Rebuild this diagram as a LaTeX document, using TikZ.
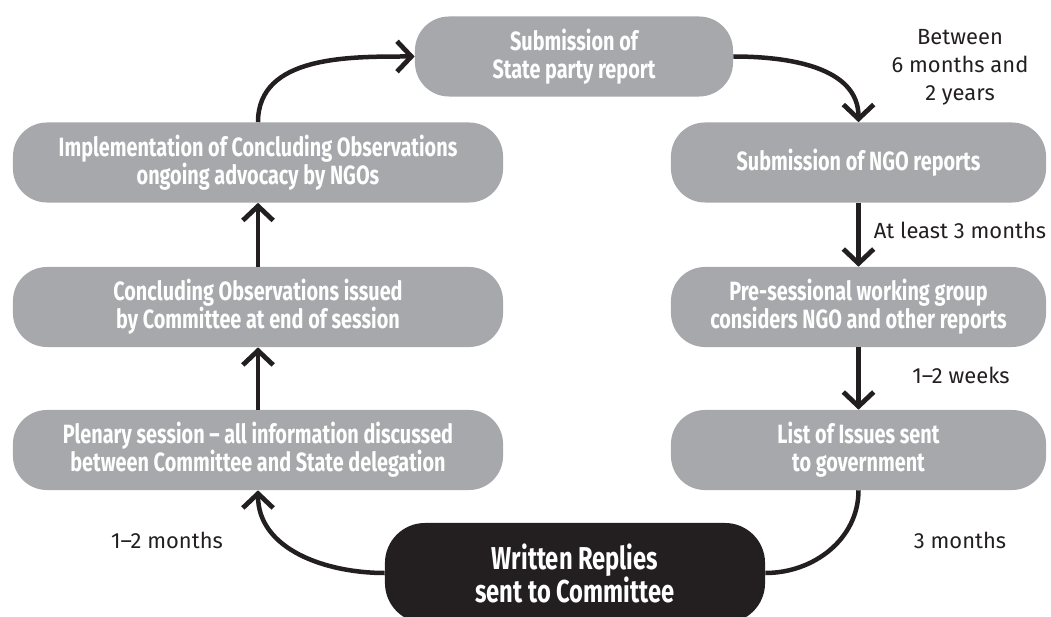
\documentclass[tikz,border=0pt]{standalone}
\usepackage{fontspec}
\setmainfont{Fira Sans}
\newfontfamily\boxfont[FakeStretch=0.75]{Fira Sans}
\usetikzlibrary{arrows.meta}
\definecolor{boxgrey}{HTML}{A7A8AB}
\definecolor{inkblack}{HTML}{231F20}

\begin{document}
\begin{tikzpicture}[x=0.025cm,y=-0.025cm,
   greybox/.style={fill=boxgrey,text=white,rounded corners=0.85cm,
      minimum height=2cm,align=center,inner sep=0pt,
      font=\boxfont\bfseries\fontsize{18.8}{19.8}\selectfont},
   flow/.style={draw=inkblack,line width=3.2pt,
      -{Straight Barb[length=3.6mm,width=7.6mm,line width=3.4pt]}},
   link/.style={draw=inkblack,line width=3.2pt},
   timing/.style={align=center,text=inkblack,
      font=\fontsize{15.6}{19.8}\selectfont}]
   \clip (0,0) rectangle (1051,617);

   \node[greybox,minimum width=7.95cm] (stater) at (574,56.5) {Submission of\\State party report};
   \node[greybox,minimum width=9.375cm] (ngorep) at (858.5,162.5) {Submission of NGO reports};
   \node[greybox,minimum width=9.375cm] (presess) at (858.5,307) {Pre-sessional working group\\considers NGO and other reports};
   \node[greybox,minimum width=9.375cm] (issues) at (858.5,450) {List of Issues sent\\to government};
   \node[greybox,minimum width=12.25cm] (implem) at (258,162.5) {Implementation of Concluding Observations\\ongoing advocacy by NGOs};
   \node[greybox,minimum width=12.25cm] (concl) at (258,307) {Concluding Observations issued\\by Committee at end of session};
   \node[greybox,minimum width=12.25cm] (plenary) at (258,450) {Plenary session – all information discussed\\between Committee and State delegation};
   \node[greybox,fill=inkblack,minimum width=9.5cm,minimum height=2.5cm,rounded corners=1cm,
      font=\boxfont\bfseries\fontsize{22.5}{23.5}\selectfont] (replies) at (575,573) {Written Replies\\sent to Committee};

   \node[timing] (between) at (960,67) {Between\\6 months and\\2 years};
   \node[timing] (atleast) at (960,230) {At least 3 months};
   \node[timing] (weeks) at (961,375) {1–2 weeks};
   \node[timing] (threem) at (960,540) {3 months};
   \node[timing] (onetwo) at (167,540) {1–2 months};

   \path[flow] (implem.north) to[out=90,in=180] (stater.west);
   \path[flow] (stater.east) to[out=0,in=90] (ngorep.north);
   \path[flow] (ngorep) -- (presess);
   \path[flow] (presess) -- (issues);
   \path[link] (issues.south) to[out=-90,in=0] (replies.east);
   \path[flow] (replies.west) to[out=180,in=-90] (plenary.south);
   \path[flow] (plenary) -- (concl);
   \path[flow] (concl) -- (implem);

\end{tikzpicture}
\end{document}
